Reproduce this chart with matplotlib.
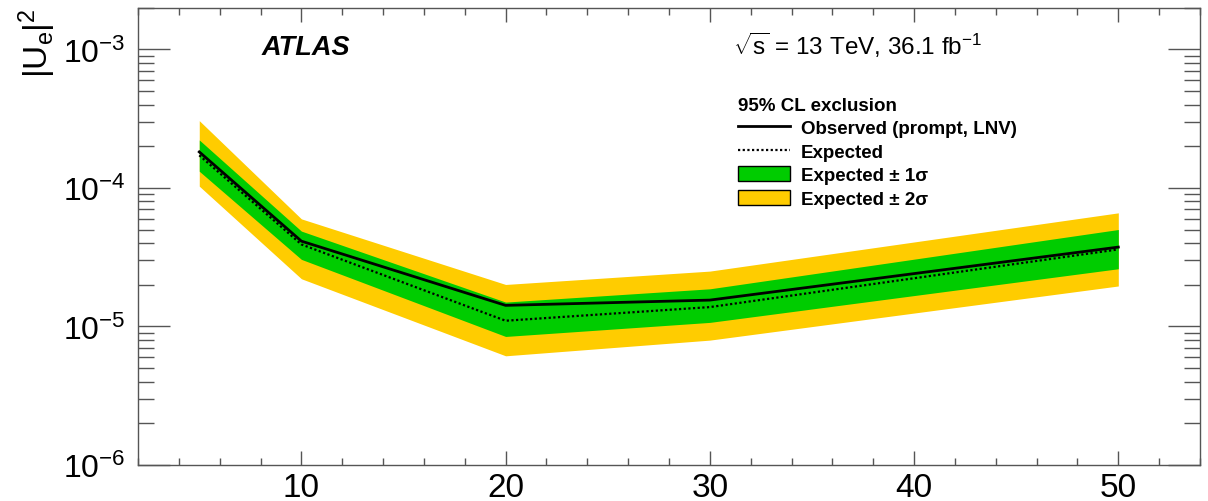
import matplotlib
matplotlib.use("Agg")
import matplotlib.pyplot as plt
from matplotlib.ticker import MultipleLocator, LogLocator, NullFormatter
from matplotlib.lines import Line2D
from matplotlib.patches import Patch

# Heavy neutral lepton mass points [GeV] and 95% CL limits on |U_e|^2
mass = [5, 10, 20, 30, 50]
observed = [1.82e-4, 4.13e-5, 1.42e-5, 1.55e-5, 3.74e-5]
expected = [1.72e-4, 3.91e-5, 1.10e-5, 1.38e-5, 3.60e-5]
exp_1sig_lo = [1.32e-4, 3.05e-5, 8.47e-6, 1.07e-5, 2.61e-5]
exp_1sig_hi = [2.22e-4, 4.88e-5, 1.50e-5, 1.87e-5, 5.01e-5]
exp_2sig_lo = [1.03e-4, 2.21e-5, 6.14e-6, 7.97e-6, 1.96e-5]
exp_2sig_hi = [3.06e-4, 5.98e-5, 2.01e-5, 2.51e-5, 6.61e-5]

x_ticks = [10, 20, 30, 40, 50]

plt.rcParams["font.family"] = ["Liberation Sans", "DejaVu Sans"]
plt.rcParams["mathtext.fontset"] = "custom"
plt.rcParams["mathtext.rm"] = "Liberation Sans"
plt.rcParams["mathtext.it"] = "Liberation Sans:italic"
plt.rcParams["mathtext.bf"] = "Liberation Sans:bold"

GREEN = "#00cc00"
YELLOW = "#ffcc00"
FRAME = "#555555"

W, H = 1208, 502
fig = plt.figure(figsize=(W / 100, H / 100), dpi=100)
ax = fig.add_axes([138 / W, 1 - 466 / H, (1200 - 138) / W, (466 - 8.7) / H])

ax.fill_between(mass, exp_2sig_lo, exp_2sig_hi, color=YELLOW, lw=0)
ax.fill_between(mass, exp_1sig_lo, exp_1sig_hi, color=GREEN, lw=0)
ax.plot(mass, expected, color="black", lw=1.6, ls=(0, (1, 1.1)))
ax.plot(mass, observed, color="black", lw=2.0)

ax.set_yscale("log")
ax.set_xlim(2, 54)
ax.set_ylim(1e-6, 2e-3)

ax.xaxis.set_major_locator(MultipleLocator(10))
ax.xaxis.set_minor_locator(MultipleLocator(2))
ax.set_xticks(x_ticks)
ax.yaxis.set_major_locator(LogLocator(base=10, numticks=10))
ax.yaxis.set_minor_locator(LogLocator(base=10, subs=range(2, 10), numticks=20))
ax.yaxis.set_minor_formatter(NullFormatter())

for s in ax.spines.values():
    s.set_color(FRAME)
    s.set_linewidth(1.0)

ax.tick_params(which="both", direction="in", top=True, right=True,
               color=FRAME, width=1.0)
ax.tick_params(axis="x", which="major", length=10, labelsize=24, pad=5)
ax.tick_params(axis="x", which="minor", length=5)
ax.tick_params(axis="y", which="major", length=23, labelsize=23, pad=9)
ax.tick_params(axis="y", which="minor", length=11.5)

ax.set_ylabel(r"$|\mathrm{U}_\mathrm{e}|^2$", loc="top", fontsize=24)
ax.yaxis.set_label_coords(-0.075, 1.0)

fig.text(262 / W, 1 - 55 / H, "ATLAS", fontsize=19.5, fontweight="bold",
         fontstyle="italic", va="baseline", ha="left")
fig.text(733 / W, 1 - 55 / H, r"$\sqrt{\mathrm{s}}$ = 13 TeV, 36.1 fb$^{-1}$",
         fontsize=17.5, va="baseline", ha="left")

handles = [
    Line2D([], [], color="black", lw=2.0),
    Line2D([], [], color="black", lw=1.6, ls=(0, (1, 1.1))),
    Patch(facecolor=GREEN, edgecolor="black", lw=1.0),
    Patch(facecolor=YELLOW, edgecolor="black", lw=1.0),
]
labels = ["Observed (prompt, LNV)", "Expected",
          "Expected \u00b1 1\u03c3", "Expected \u00b1 2\u03c3"]
leg = ax.legend(handles, labels, loc="upper left",
                bbox_to_anchor=(738 / W, 1 - 98 / H),
                bbox_transform=fig.transFigure,
                frameon=False, title="95% CL exclusion", alignment="left",
                prop={"weight": "bold", "size": 13.5},
                title_fontproperties={"weight": "bold", "size": 13.5},
                handlelength=2.75, handleheight=0.85, handletextpad=0.6,
                labelspacing=0.29, borderpad=0.0, borderaxespad=0.0)

fig.savefig("out.png", dpi=100)
